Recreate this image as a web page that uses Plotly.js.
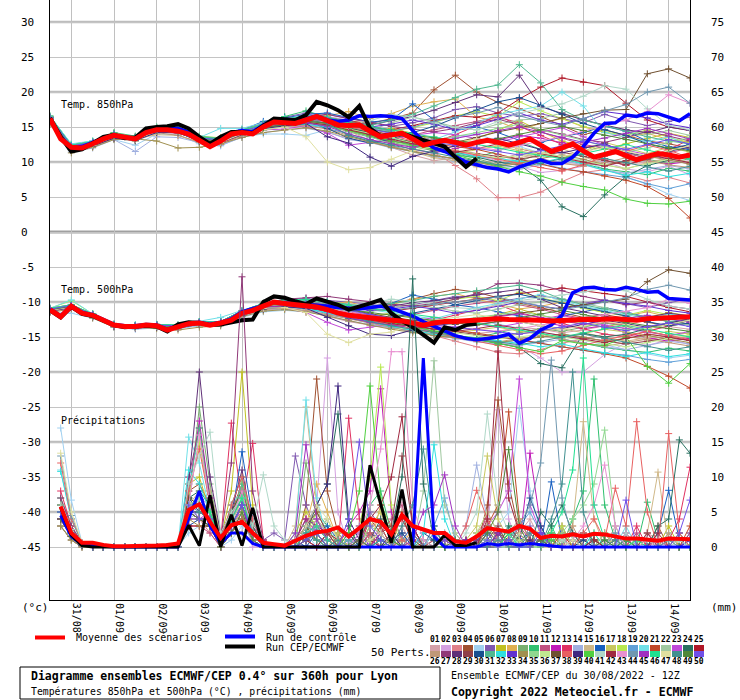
<!DOCTYPE html>
<html><head><meta charset="utf-8">
<script src="https://cdn.plot.ly/plotly-3.0.1.min.js"></script>
<style>html,body{margin:0;padding:0;background:#fff}#chart{width:740px;height:700px}</style>
</head><body><div id="chart"></div>
<script>
const hours6=[0,6,12,18,24,30,36,42,48,54,60,66,72,78,84,90,96,102,108,114,120,126,132,138,144,150,156,162,168,174,180,186,192,198,204,210,216,222,228,234,240,246,252,258,264,270,276,282,288,294,300,306,312,318,324,330,336,342,348,354,360];
const hours12=[0,12,24,36,48,60,72,84,96,108,120,132,144,156,168,180,192,204,216,228,240,252,264,276,288,300,312,324,336,348,360];
const precipHours=[6,12,18,24,30,36,42,48,54,60,66,72,78,84,90,96,102,108,114,120,126,132,138,144,150,156,162,168,174,180,186,192,198,204,210,216,222,228,234,240,246,252,258,264,270,276,282,288,294,300,306,312,318,324,330,336,342,348,354,360];
const dayTicks=[12,36,60,84,108,132,156,180,204,228,252,276,300,324,348];
const dayLabels=["31/08","01/09","02/09","03/09","04/09","05/09","06/09","07/09","08/09","09/09","10/09","11/09","12/09","13/09","14/09"];
const leftTicks=[-45,-40,-35,-30,-25,-20,-15,-10,-5,0,5,10,15,20,25,30];
const rightTicks=[0,5,10,15,20,25,30,35,40,45,50,55,60,65,70,75];
const memberColors=["#d4a0a8","#d4a0e0","#e08088","#a05030","#a0d0f0","#8058b0","#c0c020","#e0b050","#78b070","#30c070","#c05080","#c018b8","#e03060","#a0b0e0","#d0b888","#1860c0","#c8c860","#b8e850","#60a0d8","#70e0e8","#c04828","#a0c8a0","#c048d8","#287060","#b01828","#c09878","#903878","#603078","#904048","#185090","#50b890","#30e0e0","#6030d0","#a09050","#90d890","#c0e890","#705030","#e86060","#402880","#50d040","#b0d8c8","#a02840","#e890d0","#7098b0","#a030c0","#20e090","#e0e0a0","#409090","#508838","#7050e8"];

const mean850=[16.2,13.3,12.1,12.0,12.6,13.3,13.8,13.5,13.3,14.2,14.6,14.6,14.4,14.0,13.2,12.2,13.0,14.0,14.2,14.0,15.0,15.7,15.6,15.5,16.0,16.5,15.9,15.3,15.2,15.3,14.4,13.6,13.9,14.1,13.3,12.4,12.8,13.1,12.8,12.4,12.8,13.1,12.8,12.4,12.8,13.3,12.4,11.5,12.0,12.6,11.6,10.7,11.1,11.5,10.9,10.3,10.8,11.2,11.0,10.7,11.0];
const main850=[16.3,13.6,11.5,11.8,12.7,13.6,13.9,13.4,13.5,14.8,15.0,15.1,15.4,14.8,13.6,12.6,13.6,14.3,14.3,14.1,15.2,16.2,16.1,16.0,16.7,18.6,18.1,17.4,16.4,18.0,14.8,13.7,13.9,14.1,13.6,13.1,12.7,12.2,10.7,9.3,10.5];
const ctrl850=[16.0,13.5,12.0,12.2,12.8,13.4,13.8,13.6,13.4,14.4,14.8,14.9,14.8,14.3,13.5,12.5,13.3,14.2,14.5,14.3,15.3,15.8,15.7,15.8,16.2,16.6,16.0,15.8,16.0,16.6,16.5,16.6,16.5,16.2,14.5,13.0,12.0,11.5,10.8,10.0,9.6,9.2,9.0,8.6,9.3,9.8,10.3,9.8,9.8,10.7,12.2,14.1,15.5,15.6,16.7,16.5,17.0,16.9,16.4,15.9,16.9];
const mean500=[-11.1,-12.1,-10.6,-11.6,-11.9,-12.6,-13.3,-13.5,-13.5,-13.3,-13.4,-14.0,-13.5,-13.1,-13.0,-13.3,-13.0,-12.6,-11.6,-11.2,-10.6,-10.0,-10.2,-10.4,-10.5,-10.7,-11.1,-11.6,-11.9,-12.1,-12.3,-12.5,-12.6,-12.7,-13.0,-13.3,-13.0,-12.8,-12.8,-12.7,-12.6,-12.4,-12.4,-12.5,-12.5,-12.5,-12.6,-12.7,-12.6,-12.5,-12.5,-12.5,-12.4,-12.4,-12.5,-12.6,-12.4,-12.3,-12.2,-12.1,-12.1];
const main500=[-11.2,-12.2,-10.7,-11.7,-12.0,-12.7,-13.3,-13.6,-13.5,-13.4,-13.5,-14.2,-13.2,-12.9,-13.0,-13.3,-13.2,-12.9,-12.6,-12.5,-10.0,-9.2,-9.4,-9.9,-10.3,-9.5,-9.9,-10.4,-11.1,-10.7,-10.2,-9.7,-11.6,-12.7,-13.6,-14.7,-15.8,-13.6,-14.0,-13.3,-13.1];
const ctrl500=[-11.0,-12.0,-10.5,-11.5,-11.8,-12.5,-13.2,-13.4,-13.4,-13.2,-13.3,-13.9,-13.4,-13.0,-12.9,-13.2,-12.9,-12.4,-11.4,-11.0,-10.5,-10.0,-10.1,-10.2,-10.4,-10.5,-10.6,-10.8,-10.9,-11.0,-10.8,-10.6,-10.9,-11.4,-12.0,-12.8,-13.5,-14.2,-14.8,-15.2,-15.4,-15.2,-15.0,-14.6,-15.9,-15.2,-14.0,-13.3,-11.9,-8.7,-8.0,-7.9,-8.2,-8.3,-7.9,-8.2,-8.6,-8.5,-9.5,-9.6,-9.7];
const meanPrecip=[5.8,2.0,0.6,0.6,0.3,0.1,0.1,0.1,0.2,0.2,0.3,0.5,5.3,6.1,3.6,1.3,3.1,3.6,2.0,0.6,0.4,0.2,0.9,1.6,2.1,2.3,2.8,1.5,2.7,4.0,3.6,1.8,4.6,3.0,2.5,2.0,2.0,0.8,0.6,1.5,2.7,2.4,2.2,3.0,2.6,1.3,1.6,1.5,1.8,1.5,1.9,1.8,1.5,1.2,1.2,1.1,0.9,1.2,1.1,1.1];
const mainPrecip=[5.6,1.7,0.2,0,0,0,0,0,0,0,0,0,3.1,0.2,7.4,0,4.6,0.2,5.6,0,0,0,0,0,0,0,0,0,0,11.7,6.0,0.6,8.2,0,0,0,1.7,0.2,0.2,0.6];
const ctrlPrecip=[4.5,1.5,0.3,0.2,0,0,0,0,0,0,0,0,4,8,3,0.5,2,2,0.5,0,0,0,0,0,0,0,0,0,0,0,0,0,0,0,27,1.5,0,0,0,0,0.5,0.3,0.5,0.3,0.5,0.3,0.2,0,0,0,0,0,0,0,0,0,0,0,0,0];

const members850=[
[15.8,12.3,12.9,13.6,13.1,14.3,14.6,13.4,12.8,13.9,14.6,15.2,15.0,14.2,13.4,12.8,12.1,11.0,10.2,10.6,9.8,10.3,11.2,10.5,9.8,9.6,10.5,9.8,9.9,10.6,9.6],
[16.4,11.8,12.4,14.1,13.5,14.9,14.8,13.0,13.4,14.5,15.6,16.2,16.8,16.5,16.0,15.2,14.6,14.0,12.3,11.5,10.9,10.2,9.4,8.5,8.8,9.4,10.1,9.0,8.6,9.4,8.2],
[16.0,12.6,12.2,13.5,13.6,14.5,14.2,13.3,12.9,14.3,14.9,15.8,15.9,15.1,14.6,13.8,13.2,12.9,11.4,9.5,7.6,4.9,4.9,5.7,7.2,8.5,8.9,8.1,7.3,7.8,7.0],
[16.5,12.0,12.5,14.0,13.4,14.7,14.5,13.1,12.9,14.4,15.2,15.8,16.1,16.3,15.9,15.5,16.2,17.0,20.3,22.4,20.0,18.5,17.6,16.5,15.2,13.9,14.6,13.8,13.0,12.6,12.0],
[15.6,11.6,12.3,13.2,12.4,14.0,13.9,12.6,12.3,13.6,14.0,14.0,13.8,14.6,14.3,13.5,13.0,12.6,12.9,13.6,14.0,13.0,12.2,11.3,10.8,10.2,9.0,7.9,6.8,5.4,4.5],
[16.1,12.2,12.8,13.9,13.2,14.8,14.9,13.6,13.3,14.6,15.4,16.4,17.0,16.8,16.2,15.8,15.1,15.6,16.3,17.5,17.9,17.0,16.5,16.9,16.2,15.6,16.8,15.9,15.2,15.8,16.4],
[16.3,12.4,12.7,13.7,13.4,14.4,14.2,13.2,13.1,14.0,15.1,15.5,16.2,15.6,15.0,14.2,14.8,14.1,13.0,12.6,13.4,14.5,15.9,14.4,13.0,12.2,11.8,12.6,13.3,14.1,13.5],
[16.2,12.0,12.6,13.9,13.3,14.6,14.7,13.3,12.8,14.1,15.3,15.9,16.4,16.6,17.2,16.2,16.9,18.0,18.6,19.0,16.4,15.8,14.6,15.5,16.2,15.0,14.2,13.5,14.1,13.2,12.8],
[16.0,12.1,12.5,13.6,13.0,14.5,14.4,13.0,13.2,14.2,14.8,15.4,15.6,15.2,14.5,13.7,12.8,12.2,11.6,11.2,10.5,9.6,10.1,11.2,10.6,11.4,12.3,11.5,10.4,9.8,10.5],
[16.6,12.5,13.0,14.2,13.7,15.0,15.0,13.7,13.4,14.4,15.5,16.5,17.3,16.4,15.7,15.1,14.3,13.2,12.0,11.0,10.6,11.6,12.9,11.8,10.5,9.8,9.0,8.6,8.2,9.1,8.7],
[16.0,12.0,12.8,13.5,13.1,14.3,14.1,13.2,12.7,13.8,14.8,15.3,15.5,15.3,14.9,14.0,13.6,13.8,14.6,15.2,15.8,16.4,15.6,14.3,13.4,12.5,12.0,11.2,10.5,11.3,12.0],
[16.4,12.3,12.9,14.0,13.6,14.9,14.6,13.4,13.2,14.6,15.6,16.0,16.6,16.2,15.0,13.9,12.6,11.8,11.3,11.9,12.5,13.2,13.8,13.4,12.8,12.1,12.4,11.0,10.2,9.7,10.1],
[15.9,12.1,12.4,13.6,13.3,14.4,14.3,12.9,12.7,13.9,14.9,15.7,15.9,15.4,14.9,14.2,13.5,12.6,12.8,13.9,15.2,16.7,15.1,13.8,12.5,11.4,10.3,9.5,10.6,11.8,13.2],
[15.5,11.4,12.0,13.2,11.5,13.6,13.5,12.8,12.4,13.5,14.2,14.6,14.8,14.3,13.2,12.8,12.0,11.5,10.8,10.1,9.6,9.3,9.0,9.6,10.2,9.6,8.8,8.4,8.9,9.5,9.0],
[15.6,11.8,12.3,13.3,13.3,13.9,13.8,12.9,13.1,13.9,14.7,15.1,15.4,15.0,14.4,13.1,12.3,11.5,10.6,10.2,9.3,9.8,10.6,11.2,11.9,10.8,9.6,9.0,9.9,10.5,10.0],
[16.2,12.2,12.7,13.8,13.4,14.7,14.6,13.5,13.3,14.5,15.8,16.3,16.8,17.0,16.4,15.7,16.0,18.3,16.0,14.5,15.0,14.2,13.1,12.8,13.6,14.2,15.1,14.4,13.0,12.2,11.8],
[16.1,12.0,12.6,13.7,13.2,14.6,14.5,13.2,13.0,14.3,14.9,15.4,15.9,15.7,14.8,14.0,13.3,12.5,11.8,11.2,11.8,12.3,11.6,11.0,10.6,11.5,12.8,12.0,11.2,12.1,11.4],
[16.3,12.4,12.9,14.1,13.6,14.9,14.8,13.6,13.5,14.6,15.4,16.1,16.5,16.1,15.4,14.8,14.4,14.9,15.6,16.6,17.2,16.5,18.6,17.3,16.2,15.1,14.3,13.8,14.6,13.5,12.8],
[16.0,12.1,12.5,13.6,13.2,14.4,14.2,13.0,12.9,14.1,14.7,15.1,15.3,14.8,14.0,13.2,12.3,11.5,10.9,10.5,9.9,9.5,10.4,9.7,9.1,8.6,8.2,7.8,6.9,6.2,6.9],
[16.5,12.6,13.0,14.0,13.5,14.8,14.7,13.5,14.8,14.8,15.6,16.2,16.7,16.3,15.4,14.9,14.2,13.6,13.2,14.3,15.6,16.8,17.4,18.0,20.0,18.0,14.2,13.5,12.9,13.6,12.4],
[16.2,12.2,12.6,13.8,13.3,14.5,14.4,13.3,13.0,14.1,14.9,15.5,15.8,15.4,14.5,13.9,13.4,12.9,12.6,12.2,11.8,11.1,10.5,9.8,9.0,8.6,8.0,7.4,6.5,4.8,2.0],
[16.0,12.0,12.5,13.7,13.3,14.6,14.4,13.2,13.0,14.2,14.9,15.7,16.0,15.7,14.9,14.5,15.6,16.4,15.8,15.0,14.6,15.4,16.0,16.2,17.0,16.0,15.2,14.6,13.9,14.5,13.8],
[15.9,11.9,12.4,13.6,13.2,14.4,14.5,13.1,12.9,14.1,14.6,14.7,15.2,14.1,12.4,12.8,13.2,13.8,14.2,13.9,13.3,12.8,13.6,14.3,14.9,13.6,12.4,11.7,11.0,10.4,11.2],
[16.1,12.1,12.6,13.8,13.4,14.7,14.5,13.4,13.1,14.3,15.1,15.5,15.8,15.6,14.9,14.1,13.5,12.8,12.0,11.4,10.6,10.0,9.6,7.4,3.6,2.2,5.3,7.9,9.5,10.3,11.0],
[16.4,12.3,12.8,14.0,13.5,14.8,14.7,13.5,13.2,14.4,15.3,15.9,16.3,16.0,15.6,15.0,14.6,15.2,15.9,16.6,16.4,17.0,19.0,20.7,22.0,21.4,20.9,18.4,16.0,15.0,14.5],
[15.7,11.7,12.2,13.4,13.0,14.2,13.8,12.8,12.5,13.8,14.5,15.1,15.2,14.7,13.8,12.9,12.2,11.6,11.0,10.4,10.0,9.5,9.9,10.4,9.8,9.4,9.9,10.6,10.2,9.6,9.2],
[16.3,12.2,12.8,14.0,13.4,14.8,14.6,13.4,13.2,14.5,15.3,16.0,16.4,16.8,16.2,15.6,15.1,14.7,14.3,14.8,15.6,16.1,15.3,14.6,14.0,13.2,12.8,13.5,14.4,13.7,13.0],
[16.1,12.0,12.6,13.8,13.4,14.6,14.5,13.2,13.1,14.3,15.2,15.8,16.0,16.2,15.8,15.3,15.9,16.5,17.4,18.5,19.6,19.3,22.4,17.9,17.0,16.0,15.3,14.6,14.2,15.0,14.5],
[16.0,12.1,12.5,13.6,13.2,14.4,14.3,13.1,12.8,14.0,14.7,15.3,15.6,15.2,14.4,13.6,13.0,12.5,12.1,11.6,11.2,10.8,10.4,10.9,11.4,10.8,10.2,9.6,10.4,11.1,10.6],
[16.2,12.3,12.7,13.9,13.5,14.6,14.5,13.3,13.0,14.3,15.0,15.6,15.8,14.8,13.4,12.7,13.3,14.2,15.1,16.3,17.4,18.6,19.2,18.1,16.8,15.5,14.6,13.8,12.6,11.9,12.5],
[16.4,12.4,12.9,14.1,13.6,14.9,14.8,13.6,13.4,14.6,15.3,16.0,16.6,16.4,15.8,15.2,16.0,16.8,18.0,19.2,20.4,21.0,23.9,21.3,17.5,16.0,15.2,14.4,13.6,13.0,12.6],
[15.9,11.9,12.4,13.5,13.1,14.3,14.3,13.1,12.9,14.0,14.6,15.2,15.4,15.0,14.6,14.0,13.4,12.5,11.8,11.3,10.8,10.5,10.1,9.9,10.6,9.7,8.8,8.1,8.6,7.9,8.4],
[16.2,12.2,12.7,13.8,13.3,14.6,14.6,13.3,13.1,14.3,15.0,15.9,16.2,16.0,15.5,15.0,15.4,16.0,15.4,14.6,15.2,16.1,17.0,16.0,15.4,16.2,17.2,16.8,16.3,15.4,14.9],
[15.4,11.3,12.1,13.2,13.3,13.0,12.0,12.1,12.6,13.5,14.2,14.6,14.9,14.4,13.6,12.8,12.1,11.5,10.9,10.5,10.0,9.3,9.8,10.5,11.0,10.4,9.6,10.1,10.8,10.3,9.7],
[16.1,12.1,12.6,13.8,13.3,14.5,14.4,13.3,13.0,14.1,15.0,15.6,15.8,15.3,14.4,13.6,12.6,12.4,13.1,13.6,14.2,14.8,15.4,14.6,13.9,13.1,12.2,11.4,12.0,12.8,13.5],
[16.0,12.0,12.5,13.6,13.2,14.4,14.4,13.2,12.9,14.2,14.8,15.4,15.7,15.2,14.7,14.1,13.5,12.7,12.2,11.7,11.1,10.6,10.9,11.3,10.8,10.1,9.6,9.1,9.7,10.4,11.1],
[16.3,12.3,12.8,13.9,13.4,14.7,14.6,13.4,13.2,14.4,15.2,15.8,16.1,15.8,15.1,14.5,13.9,13.5,13.1,12.8,13.5,14.3,14.9,15.5,16.3,16.9,17.4,17.5,22.6,23.3,22.0],
[16.2,12.0,12.6,13.8,13.3,14.6,14.5,13.3,13.1,14.3,15.0,15.7,16.0,15.6,15.0,14.4,13.8,13.0,12.4,11.6,11.0,10.4,9.7,9.2,8.7,9.6,10.8,11.5,12.4,11.7,10.6],
[15.8,11.8,12.3,13.4,13.1,14.2,14.2,13.0,12.8,13.9,14.8,15.2,15.5,13.6,12.7,10.7,9.4,10.8,11.6,12.3,12.8,13.4,12.6,11.8,11.3,12.0,12.6,11.4,10.8,11.5,12.2],
[16.1,12.1,12.6,13.7,13.2,14.5,14.4,13.2,13.0,14.2,14.9,15.5,15.7,15.2,14.5,13.7,13.0,12.4,11.8,11.0,10.2,9.3,8.6,8.0,7.1,6.5,6.0,4.7,4.1,4.0,4.4],
[16.2,12.2,12.7,13.9,13.4,14.7,14.6,13.4,13.1,14.4,15.1,15.8,16.2,15.9,15.3,15.9,16.8,16.4,15.6,14.9,14.6,15.8,17.0,17.6,18.3,19.4,20.9,20.4,17.6,15.2,14.6],
[16.0,12.0,12.5,13.6,13.2,14.4,14.3,13.1,12.9,14.1,14.8,15.4,15.7,15.3,14.6,13.9,13.2,12.6,12.0,11.4,11.9,12.6,11.9,11.2,10.6,10.0,9.4,10.2,11.0,10.5,9.9],
[16.1,12.1,12.6,13.8,13.3,14.6,14.5,13.3,13.0,14.3,15.0,15.6,16.0,15.7,15.1,14.6,14.0,13.5,13.0,12.5,12.1,11.7,12.4,13.0,13.6,14.4,15.2,16.0,17.2,19.6,18.4],
[16.3,12.3,12.8,14.0,13.5,14.8,14.7,13.5,13.2,14.5,15.3,16.0,16.4,16.1,15.5,14.9,14.4,15.0,15.8,16.4,17.0,17.8,16.6,15.8,15.2,16.2,17.3,18.2,20.0,20.7,18.4],
[16.0,12.0,12.5,13.7,13.2,14.5,14.4,13.2,12.9,14.1,14.9,15.4,15.6,15.1,14.0,13.2,12.6,12.1,12.8,13.4,13.9,14.5,15.0,14.2,13.5,12.8,13.4,14.1,14.8,14.0,13.3],
[16.4,12.4,12.9,14.0,13.5,14.8,14.7,13.5,13.3,14.5,15.4,16.1,16.5,16.2,15.6,15.1,14.6,14.1,13.6,13.1,12.6,12.0,11.4,10.9,10.5,11.2,11.9,12.5,11.7,11.0,10.4],
[15.9,11.9,12.4,13.6,13.2,14.4,14.3,13.1,12.8,14.0,14.6,15.0,13.6,10.0,8.9,9.2,10.4,11.6,12.2,12.8,13.3,12.6,11.9,11.3,10.8,11.4,12.1,11.5,10.9,11.6,12.3],
[16.2,12.2,12.7,13.8,13.4,14.6,14.5,13.3,13.1,14.3,15.0,15.7,16.1,15.5,13.8,13.0,12.4,11.9,11.3,10.7,10.1,9.6,9.2,9.8,10.4,11.1,10.5,9.9,9.3,8.7,9.4],
[16.1,12.1,12.6,13.7,13.3,14.5,14.4,13.2,13.0,14.2,14.9,15.4,15.8,15.6,15.2,14.7,14.2,13.8,13.4,13.0,12.7,13.3,14.0,14.6,15.1,14.5,13.8,13.2,12.6,12.0,11.6],
[16.3,12.3,12.8,13.9,13.4,14.7,14.6,13.4,13.2,14.4,15.2,15.9,16.2,15.9,15.4,14.8,14.1,13.4,12.8,12.4,12.0,11.5,11.0,11.6,12.3,13.0,12.4,11.8,12.5,13.2,12.6]];

const members500=[
[-11.2,-10.8,-12.0,-13.4,-13.6,-13.5,-13.7,-13.2,-13.2,-11.9,-11.0,-10.8,-11.3,-12.0,-12.8,-13.3,-13.8,-14.2,-14.6,-14.0,-14.5,-14.2,-13.6,-13.9,-14.4,-14.0,-13.4,-13.8,-14.1,-13.5,-13.9],
[-10.9,-10.4,-11.7,-13.2,-13.4,-13.2,-13.3,-12.8,-12.9,-11.3,-10.2,-9.6,-9.8,-10.4,-11.2,-12.0,-12.6,-13.4,-14.2,-14.8,-15.3,-15.8,-16.3,-18.0,-20.0,-20.0,-17.5,-15.8,-16.2,-15.4,-16.0],
[-11.0,-10.7,-11.8,-13.3,-13.5,-13.4,-13.6,-13.1,-13.0,-11.7,-10.8,-10.4,-10.6,-11.5,-12.2,-12.8,-13.3,-13.9,-14.8,-15.6,-16.4,-17.2,-17.4,-16.8,-15.9,-15.2,-14.6,-14.9,-15.4,-14.8,-15.2],
[-11.1,-10.6,-11.9,-13.3,-13.4,-13.3,-13.5,-13.0,-12.9,-11.5,-10.5,-10.0,-10.2,-10.5,-10.8,-10.6,-10.2,-9.6,-8.8,-8.2,-8.6,-9.4,-10.2,-10.8,-11.5,-12.2,-11.8,-12.4,-12.9,-13.4,-13.0],
[-11.5,-11.6,-12.3,-13.6,-13.9,-13.7,-13.8,-13.4,-13.4,-12.2,-11.4,-11.2,-11.4,-11.8,-12.3,-12.8,-13.2,-13.6,-13.4,-12.9,-12.6,-13.2,-13.8,-14.3,-14.8,-15.4,-16.1,-16.8,-17.4,-18.0,-17.6],
[-11.0,-10.5,-11.8,-13.2,-13.4,-13.3,-13.4,-12.9,-12.8,-11.3,-10.3,-9.7,-9.5,-9.8,-10.1,-10.3,-10.8,-10.4,-9.8,-9.2,-9.4,-9.9,-9.5,-9.1,-9.6,-10.2,-9.7,-10.3,-10.8,-10.1,-9.6],
[-11.1,-10.6,-11.9,-13.3,-13.5,-13.4,-13.5,-13.0,-13.0,-11.6,-10.6,-10.3,-10.4,-11.0,-11.6,-12.0,-11.6,-12.2,-12.8,-13.0,-12.5,-11.8,-11.0,-11.9,-12.6,-13.2,-13.6,-12.9,-12.2,-11.5,-12.0],
[-10.9,-10.4,-11.7,-13.2,-13.4,-13.2,-13.3,-12.9,-12.8,-11.4,-10.3,-9.9,-10.0,-10.2,-10.0,-10.8,-10.4,-9.6,-9.2,-8.8,-9.6,-10.3,-11.0,-10.6,-10.0,-10.8,-11.5,-12.0,-11.4,-12.1,-12.6],
[-11.2,-10.7,-12.0,-13.4,-13.6,-13.5,-13.6,-13.1,-13.0,-11.8,-10.8,-10.6,-10.8,-11.4,-12.2,-12.9,-13.6,-14.2,-14.7,-15.1,-15.6,-15.2,-14.4,-13.8,-14.2,-13.6,-13.0,-13.5,-14.2,-14.8,-14.4],
[-11.0,-10.5,-11.8,-13.3,-13.4,-13.3,-13.4,-12.9,-12.9,-11.4,-10.4,-9.8,-9.6,-10.3,-11.0,-11.7,-12.5,-13.2,-14.0,-14.8,-15.1,-14.4,-13.7,-14.5,-15.3,-15.9,-16.5,-16.9,-17.2,-16.6,-17.0],
[-11.2,-10.7,-12.0,-13.4,-13.5,-13.4,-13.6,-13.1,-13.1,-11.8,-10.9,-10.6,-10.9,-11.2,-11.6,-12.0,-12.2,-11.8,-11.2,-10.6,-10.2,-9.8,-10.4,-11.0,-11.8,-12.4,-12.9,-13.3,-13.8,-13.1,-12.6],
[-11.1,-10.6,-11.9,-13.3,-13.5,-13.4,-13.5,-13.0,-12.9,-11.4,-10.3,-9.9,-10.1,-10.6,-11.5,-12.6,-13.4,-13.9,-14.1,-13.6,-13.2,-12.8,-12.4,-12.8,-13.4,-13.8,-13.4,-14.4,-15.1,-15.6,-15.2],
[-11.0,-10.6,-11.8,-13.3,-13.5,-13.3,-13.5,-13.0,-13.0,-11.6,-10.7,-10.4,-10.6,-11.0,-11.4,-11.9,-12.4,-13.0,-12.6,-11.9,-11.2,-10.4,-11.5,-12.3,-13.1,-13.8,-14.6,-15.0,-14.2,-13.4,-12.6],
[-11.4,-10.9,-12.2,-13.6,-13.8,-13.6,-13.8,-13.3,-13.2,-12.0,-11.2,-11.0,-11.3,-11.9,-12.7,-13.2,-13.8,-14.3,-14.8,-15.3,-15.7,-16.0,-16.2,-15.8,-15.3,-15.8,-16.4,-16.8,-16.2,-15.6,-16.0],
[-11.3,-10.8,-12.1,-13.5,-13.7,-13.6,-13.7,-13.2,-13.1,-11.9,-11.0,-10.7,-10.9,-11.4,-12.0,-12.8,-13.4,-14.0,-14.6,-15.0,-15.4,-15.0,-14.6,-14.2,-13.8,-14.4,-15.0,-15.6,-15.1,-14.6,-14.9],
[-11.0,-10.5,-11.8,-13.2,-13.4,-13.3,-13.4,-12.9,-12.8,-11.3,-10.3,-9.8,-9.8,-10.0,-10.4,-10.8,-10.2,-9.0,-9.6,-10.4,-10.8,-11.4,-12.0,-12.6,-12.0,-11.4,-10.8,-11.4,-12.2,-12.8,-13.2],
[-11.1,-10.6,-11.9,-13.3,-13.5,-13.4,-13.5,-13.0,-13.0,-11.6,-10.7,-10.3,-10.5,-11.0,-11.8,-12.5,-13.0,-13.6,-14.0,-14.4,-14.0,-13.6,-14.2,-14.6,-15.0,-14.5,-13.9,-14.3,-14.8,-14.2,-14.6],
[-10.9,-9.8,-11.7,-13.2,-13.4,-13.2,-13.4,-12.9,-12.8,-11.3,-10.2,-9.7,-9.8,-10.2,-10.6,-10.9,-11.2,-10.8,-10.2,-9.6,-9.2,-9.8,-8.6,-9.4,-10.2,-10.9,-11.5,-11.9,-11.2,-11.8,-12.4],
[-11.2,-10.7,-12.0,-13.4,-13.6,-13.5,-13.6,-13.1,-13.1,-11.8,-10.9,-10.7,-11.0,-11.6,-12.3,-13.0,-13.6,-14.2,-14.6,-15.0,-15.4,-15.9,-15.4,-15.9,-16.5,-16.9,-17.3,-17.6,-18.2,-18.6,-18.2],
[-10.9,-9.7,-11.7,-13.2,-13.3,-13.2,-13.3,-12.8,-12.2,-11.2,-10.2,-9.7,-9.6,-10.0,-10.7,-11.1,-11.6,-12.0,-12.4,-11.6,-10.8,-10.2,-9.6,-8.9,-9.8,-10.6,-11.2,-11.8,-12.4,-11.7,-12.2],
[-11.2,-10.7,-12.0,-13.4,-13.5,-13.4,-13.6,-13.1,-13.0,-11.7,-10.8,-10.5,-10.7,-11.2,-11.9,-12.4,-12.9,-13.3,-13.6,-14.0,-14.4,-14.9,-15.4,-15.9,-16.3,-16.8,-17.4,-18.0,-19.2,-20.6,-22.3],
[-11.1,-10.6,-11.9,-13.3,-13.5,-13.4,-13.5,-13.0,-13.0,-11.6,-10.6,-10.2,-10.4,-10.8,-11.3,-11.4,-10.8,-10.3,-10.8,-11.3,-11.6,-11.0,-10.4,-10.0,-9.6,-10.2,-10.8,-11.6,-12.2,-12.8,-13.3],
[-11.2,-10.7,-12.0,-13.4,-13.6,-13.5,-13.6,-13.1,-13.1,-11.8,-10.9,-10.9,-11.5,-12.9,-14.0,-13.6,-13.2,-12.8,-12.2,-12.6,-13.1,-13.6,-13.0,-12.4,-11.9,-12.6,-13.3,-13.8,-14.3,-14.8,-14.2],
[-11.1,-10.6,-11.9,-13.3,-13.5,-13.4,-13.5,-13.0,-13.0,-11.6,-10.6,-10.3,-10.5,-11.0,-11.7,-12.3,-12.9,-13.5,-14.2,-14.8,-15.4,-16.0,-16.5,-18.8,-19.4,-14.5,-15.0,-14.6,-13.8,-13.2,-12.7],
[-11.0,-10.5,-11.8,-13.2,-13.4,-13.3,-13.4,-12.9,-12.8,-11.3,-10.2,-9.8,-9.8,-10.1,-10.6,-11.0,-11.3,-10.9,-10.4,-10.0,-9.6,-9.2,-8.8,-8.4,-8.0,-8.4,-8.8,-9.2,-10.0,-10.8,-11.4],
[-11.3,-10.8,-12.1,-13.5,-13.7,-13.6,-13.7,-13.2,-13.2,-11.9,-11.1,-10.9,-11.2,-11.8,-12.5,-13.1,-13.7,-14.2,-14.6,-15.0,-15.3,-15.7,-15.2,-14.8,-15.3,-15.9,-16.3,-15.8,-15.3,-15.8,-16.3],
[-11.0,-10.5,-11.8,-13.2,-13.4,-13.3,-13.4,-12.9,-12.8,-11.4,-10.3,-9.6,-9.4,-9.2,-9.6,-10.0,-10.3,-10.6,-10.2,-9.6,-8.8,-7.4,-7.3,-7.6,-8.4,-9.2,-9.8,-10.4,-10.0,-10.6,-11.0],
[-11.1,-10.6,-11.9,-13.3,-13.5,-13.4,-13.5,-13.0,-12.9,-11.5,-10.5,-10.1,-10.2,-10.4,-10.8,-10.9,-10.6,-10.1,-9.8,-9.4,-9.0,-8.6,-8.2,-9.6,-10.8,-11.4,-12.0,-12.6,-12.2,-11.6,-12.0],
[-11.2,-10.7,-12.0,-13.4,-13.5,-13.4,-13.6,-13.1,-13.0,-11.7,-10.8,-10.6,-10.8,-11.3,-12.0,-12.6,-13.1,-13.5,-13.9,-14.3,-14.7,-15.0,-15.4,-15.0,-14.6,-15.1,-15.5,-16.0,-15.6,-15.1,-15.5],
[-11.0,-10.6,-11.8,-13.3,-13.4,-13.3,-13.5,-13.0,-12.9,-11.5,-10.5,-10.2,-10.4,-11.2,-12.3,-12.8,-12.2,-11.6,-11.0,-10.4,-9.8,-9.2,-8.9,-9.5,-10.2,-10.8,-11.4,-12.0,-12.8,-13.4,-13.0],
[-10.9,-10.4,-11.7,-13.2,-13.3,-13.2,-13.3,-12.8,-12.8,-11.3,-10.2,-9.8,-9.7,-10.0,-10.4,-10.6,-10.2,-9.8,-9.2,-8.8,-8.4,-8.0,-7.6,-8.4,-9.6,-10.4,-11.0,-11.6,-12.2,-12.8,-12.4],
[-11.2,-10.7,-12.0,-13.4,-13.6,-13.4,-13.6,-13.1,-13.1,-11.8,-10.9,-10.6,-10.9,-11.5,-12.2,-12.8,-13.5,-14.1,-14.6,-14.9,-15.2,-15.5,-15.9,-16.4,-16.0,-16.7,-17.3,-17.8,-17.2,-17.8,-17.4],
[-11.1,-10.6,-11.9,-13.3,-13.5,-13.3,-13.5,-13.0,-12.9,-11.5,-10.5,-10.0,-10.1,-10.4,-10.9,-11.2,-11.0,-10.6,-11.0,-11.6,-11.2,-10.6,-10.0,-10.6,-11.0,-10.4,-9.8,-10.2,-10.6,-11.2,-11.6],
[-11.5,-11.0,-12.3,-13.6,-13.6,-13.8,-14.0,-13.6,-13.4,-12.1,-11.3,-11.1,-11.4,-12.0,-12.7,-13.3,-13.9,-14.4,-14.8,-15.1,-15.4,-15.8,-15.4,-15.0,-14.6,-15.0,-15.6,-15.2,-14.8,-15.3,-15.8],
[-11.1,-10.6,-11.9,-13.3,-13.5,-13.4,-13.5,-13.0,-13.0,-11.6,-10.6,-10.3,-10.6,-11.1,-11.8,-12.5,-13.2,-13.6,-13.1,-12.7,-12.2,-11.8,-11.4,-11.9,-12.4,-13.0,-13.6,-14.0,-13.5,-13.0,-12.5],
[-11.2,-10.7,-12.0,-13.4,-13.5,-13.4,-13.6,-13.1,-13.0,-11.7,-10.8,-10.5,-10.7,-11.2,-11.9,-12.5,-13.0,-13.6,-14.0,-14.4,-14.8,-15.2,-15.0,-14.6,-15.0,-15.5,-16.0,-16.4,-15.8,-15.2,-14.8],
[-11.0,-10.5,-11.8,-13.3,-13.4,-13.3,-13.4,-12.9,-12.9,-11.4,-10.4,-10.0,-10.1,-10.5,-11.1,-11.7,-12.2,-12.6,-12.9,-13.2,-12.6,-12.0,-11.6,-11.2,-10.8,-10.4,-10.0,-9.6,-7.1,-5.4,-5.9],
[-11.1,-10.6,-11.9,-13.3,-13.5,-13.4,-13.5,-13.0,-13.0,-11.6,-10.7,-10.4,-10.6,-11.2,-11.9,-12.6,-13.2,-13.8,-14.4,-15.0,-15.6,-16.2,-16.9,-17.4,-17.0,-16.2,-15.4,-14.8,-14.2,-14.8,-15.4],
[-11.3,-10.8,-12.1,-13.5,-13.7,-13.6,-13.7,-13.2,-13.1,-11.9,-11.0,-10.7,-10.9,-12.2,-13.4,-14.6,-14.8,-14.0,-13.4,-13.0,-12.6,-12.2,-12.8,-13.4,-13.8,-13.2,-12.6,-13.1,-13.6,-13.0,-12.4],
[-11.1,-10.6,-11.9,-13.3,-13.5,-13.4,-13.5,-13.0,-13.0,-11.6,-10.7,-10.4,-10.6,-11.1,-11.8,-12.4,-13.0,-13.6,-14.2,-14.8,-15.4,-16.0,-16.6,-17.1,-15.5,-16.0,-16.2,-15.0,-19.2,-21.6,-18.8],
[-11.0,-10.5,-11.8,-13.2,-13.4,-13.3,-13.4,-12.9,-12.8,-11.4,-10.3,-9.8,-9.8,-10.1,-10.5,-10.2,-9.6,-9.9,-10.4,-10.8,-11.0,-10.4,-9.8,-9.4,-9.0,-8.6,-8.0,-8.4,-9.6,-10.6,-11.0],
[-11.2,-10.7,-12.0,-13.4,-13.5,-13.4,-13.6,-13.1,-13.0,-11.7,-10.8,-10.5,-10.8,-11.3,-12.0,-12.6,-13.1,-13.5,-13.9,-14.2,-13.8,-13.3,-13.8,-14.3,-14.8,-15.3,-15.8,-15.2,-14.6,-15.0,-15.5],
[-11.1,-10.6,-11.9,-13.3,-13.5,-13.4,-13.5,-13.0,-13.0,-11.6,-10.6,-10.3,-10.5,-10.9,-11.5,-12.0,-12.5,-12.9,-13.3,-13.6,-13.9,-14.2,-13.8,-13.3,-12.9,-12.4,-11.9,-11.4,-10.8,-9.6,-10.2],
[-11.0,-10.5,-11.8,-13.2,-13.4,-13.3,-13.4,-12.9,-12.8,-11.4,-10.3,-9.8,-9.9,-10.2,-10.7,-11.0,-11.2,-10.8,-10.3,-10.0,-9.7,-9.3,-10.0,-10.6,-11.1,-10.6,-10.0,-9.4,-8.2,-7.6,-8.3],
[-11.2,-10.7,-12.0,-13.4,-13.5,-13.4,-13.6,-13.1,-13.0,-11.7,-10.8,-10.5,-10.7,-11.3,-12.2,-12.9,-13.3,-13.6,-13.2,-12.8,-12.4,-12.0,-11.7,-12.2,-12.7,-13.2,-12.8,-12.4,-11.9,-12.4,-12.9],
[-10.9,-10.4,-11.7,-13.2,-13.3,-13.2,-13.3,-12.8,-12.8,-11.3,-10.2,-9.7,-9.7,-10.0,-10.5,-10.9,-11.4,-11.8,-12.2,-12.6,-13.0,-13.5,-14.0,-14.5,-15.0,-14.4,-13.8,-13.3,-13.9,-14.5,-15.0],
[-11.2,-10.7,-12.0,-13.4,-13.6,-13.5,-13.6,-13.1,-13.1,-11.8,-10.9,-10.8,-11.5,-14.6,-15.8,-14.6,-14.3,-13.2,-12.6,-12.2,-11.8,-12.3,-12.8,-13.4,-13.9,-13.4,-12.8,-13.2,-13.8,-13.2,-12.6],
[-11.1,-10.6,-11.9,-13.3,-13.5,-13.4,-13.5,-13.0,-12.9,-11.5,-10.5,-10.1,-10.3,-10.9,-11.9,-12.8,-13.4,-13.9,-14.4,-14.9,-15.3,-15.7,-16.1,-15.6,-15.0,-14.6,-15.2,-15.8,-16.4,-16.9,-16.4],
[-11.1,-10.6,-11.9,-13.3,-13.5,-13.4,-13.5,-13.0,-13.0,-11.6,-10.6,-10.2,-10.4,-10.7,-11.1,-11.5,-11.9,-12.3,-12.7,-13.0,-13.3,-12.8,-12.2,-11.7,-11.2,-11.8,-12.4,-12.9,-13.4,-13.8,-14.2],
[-11.0,-10.5,-11.8,-13.3,-13.4,-13.3,-13.4,-12.9,-12.9,-11.4,-10.4,-10.0,-10.2,-10.6,-11.2,-11.8,-12.4,-12.9,-13.3,-13.6,-13.9,-14.2,-14.6,-14.1,-13.6,-13.0,-13.6,-14.1,-13.5,-13.0,-13.5]];

const membersPrecip=[
[4,2,0.3,0,0,0,0,0,0,0,0,0,6,5,4,1,3,2,1,0,0,0,1,0,2,4,1,0,0,2,1,0,3,0,0,2,1,0,0,0,3,1,0,2,4,1,0,0,2,0,1,0,3,0,0,1,0,2,0,0],
[6,1.5,0.5,0,0,0,0,0,0,0,0,0,4,7,6,1,2,5,0,0,0,0,0,3,6,27,5,0,0,1,3,2,0,1,0,0,0,1,0,0,2,19.6,4,0,1,0,2,0,0,0,0,1,0,0,2,0,0,0,1,0],
[3,1,0,0,0,0,0,0,0,0,0,0,3,4,2,0,4,6,2,0,0,0,1,4,2,0,0,1,0,3,4,1,0,2,1,0,0,0,0,2,4,1,0,0,1,2,0,0,1,0,0,0,1,0,0,2,1,0,0,1],
[5,2,0.4,0,0,0,0,0,0,0,0,0,8,9,6,0,5,9,3,0,0,0,0,6,24,8,2,0,0,4,2,0,5,0,0,3,0,0,0,0,6,21,9,2,0,1,0,3,0,0,0,2,0,1,0,0,3,0,0,0],
[17,6.7,0.6,0,0,0,0,0,0,0,0,0,2,3,3,0,1,3,1,0,0,0,0,2,0,1,0,0,2,0,0,0,1,0,0,0,1,0,0,0,1,3,5,19.8,8,2,0,1,0,0,0,0,0,1,0,0,0,0,1,0],
[4,2,0.2,0,0,0,0,0,0,0,0,0,5,6,8,2,4,7,3,1,2,1,13,6,2,0,0,2,0,5,3,0,0,0,0,2,0,0,0,1,0,2,0,0,3,1,0,2,0,0,1,0,0,2,0,0,0,0,0,0],
[6,1.5,0.3,0,0,0,0,0,0,0,0,0,9,10,5,1,8,25,6,0,0,0,2,5,3,1,0,0,1,0,2,0,0,1,0,0,0,1,0,0,2,0,3,1,0,0,2,0,0,1,0,2,0,0,1,0,0,3,0,0],
[5,2,0.5,0,0,0,0,0,0,0,0,0,4,4,3,0,2,4,1,0,0,0,1,3,9,5,1,0,0,0,6,3,1,2,0,0,2,0,0,0,1,0,2,0,0,3,0,0,1,0,0,0,2,0,0,0,1,0,0,0],
[3,1,0,0,0,0,0,0,0,0,0,0,6,20,9,1,3,5,2,0,0,0,0,12,4,1,2,0,3,1,0,2,0,0,1,0,0,0,0,2,3,1,0,0,2,0,1,0,0,0,2,0,0,0,1,0,0,0,2,0],
[7,3,0.4,0,0,0,0,0,0,0,0,0,7,6,5,0,6,10,2,0,0,0,0,2,5,3,0,0,0,6,8,2,0,0,0,1,0,0,0,0,0,0,2,1,0,0,3,0,4,8,24,6,1,0,0,6.4,1,0,0,0],
[4,1.5,0.3,0,0,0,0,0,0,0,0,0,3,3,2,0,2,4,1,0,0,0,0,1,2,0,0,1,0,0,2,4,6,1,0,0,0,1,0,0,5,2,0,3,1,0,0,0,2,0,1,0,0,0,2,0,0,1,0,0],
[5,2,0.4,0,0,0,0,0,0,0,0,0,8,18,7,1,4,8,3,0,0,0,1,4,2,0,0,3,5,8,22.6,5,1,0,0,0,1,0,0,0,2,0,1,0,13.4,3,0,0,1,0,0,0,1,0,0,2,0,0,0,0],
[8,3,0.5,0,0,0,0,0,0,0,0,0,5,5,4,1,17.7,6,14.8,1,0,0,0,2,4,2,0,18.4,4,1,0,0,2,0,0,1,0,0,0,0,1,0,0,2,0,0,1,0,0,0,0,1,0,0,3,0,0,1,4,11.4],
[3,1,0,0,0,0,0,0,0,0,0,0,4,5,6,0,2,4,1,0,0,0,0,1,0,2,0,0,0,0,1,0,0,0,0,0,2,0,3,11.7,4,1,0,0,2,0,0,1,0,0,0,0,2,0,0,1,0,0,0,2],
[4,2,0.3,0,0,0,0,0,0,0,0,0,6,8,8,2,5,7,2,0,0,0,3,20,6,1,0,0,1,0,2,0,1,0,0,0,0,2,0,0,1,0,2,0,0,1,0,0,3,17.9,4,0,0,1,0,2,10.7,0,0,1],
[5,2,0.5,0,0,0,0,0,0,0,0,0,3,4,4,0,4,13.6,4,0,0,0,1,0,2,3,1,0,0,2,0,0,1,3,0,0,0,0,0,1,2,0,0,1,2,0,9.3,1,0,0,0,0,1,0,0,0,2,8.1,1,0],
[6,2,0.3,0,0,0,0,0,0,0,0,0,5,6,4,0,3,6,1,0,0,0,0,3,1,0,2,0,0,3,5,1,0,0,0,0,0,0,1,3,13,4,1,0,0,0,2,0,0,1,0,0,0,2,0,0,0,0,1,0],
[4,1.5,0.2,0,0,0,0,0,0,0,0,0,7,15,6,1,4,9,3,0,0,0,1,2,5,2,0,1,3,10,25.7,6,0,1,0,0,0,0,0,0,0,2,0,1,0,0,0,3,0,0,2,0,0,0,1,0,0,0,0,0],
[5,2,0.4,0,0,0,0,0,0,0,0,0,4,4,3,0,2,5,1,0,0,0,0,1,3,1,0,0,0,1,0,0,2,0,0,3,7,1,0,0,2,0,1,3,5,2,0,0,0,2,0,1,0,0,0,1,0,0,2,0],
[11,4,0.5,0,0,0,0,0,0,0,0,0,15.7,12,5,1,6,8,2,0,0,0,2,21,7,1,0,0,0,2,1,0,0,0,0,2,1,0,0,0,0,1,3,0,0,2,0,0,1,0,0,0,0,3,0,0,0,2,0,0],
[4,1.5,0.3,0,0,0,0,0,0,0,0,0,5,5,4,0,3,5,1,0,0,0,0,2,1,0,1,2,0,0,3,0,0,2,0,0,0,0,1,0,3,6,19.3,4,1,0,0,2,0,0,1,0,0,0,1,0,0,0,0,3],
[5,2,0.4,0,0,0,0,0,0,0,0,0,6,7,5,1,3,7,2,0,0,0,1,3,2,4,1,0,0,2,1,0,0,0,8,26.6,6,2,0,0,1,0,2,0,0,1,0,0,0,0,0,2,0,0,0,1,0,0,0,0],
[4,1.5,0.3,0,0,0,0,0,0,0,0,0,4,4,5,0,2,6,1,0,0,0,0,1,4,2,0,1,3,0,2,0,1,0,0,0,0,0,0,0,3,5,8,24,6,2,0,1,0,0,0,1,0,2,0,0,1,0,0,0],
[6,2.5,0.5,0,0,0,0,0,0,0,0,0,7,8,6,1,5,8,2,0,0,0,0,2,6,9,19,3,0,1,4,2,10,38.3,9,1,0,0,0,0,2,0,3,1,0,5,3,6,2,0,0,0,0,1,0,0,3,4,15.3,13.4],
[5,2,0.4,0,0,0,0,0,0,0,0,0,3,3,3,0,2,4,1,0,0,0,0,1,0,2,1,0,0,1,0,2,4,1,0,0,0,0,1,0,0,2,0,0,1,0,0,0,0,0,1,0,0,0,0,0,1,0,0,0],
[3,1,0,0,0,0,0,0,0,0,0,0,5,4,4,0,3,5,2,0,0,0,1,3,1,0,0,0,1,0,0,0,1,0,0,0,1,0,0,2,1,0,2,4,1,0,0,1,3,0,0,0,1,0,0,0,0,2,0,0],
[7,3,0.6,0,0,0,0,0,0,0,0,0,10,17,7,1,12,38.6,8,1,0,0,1,4,3,2,0,0,1,0,0,1,0,0,0,0,0,0,0,1,0,0,1,0,0,2,0,0,0,1,0,0,0,1,0,0,0,0,0,2],
[5,2,0.3,0,0,0,0,0,0,0,0,0,9,25,10,2,5,11,3,0,0,0,0,2,1,0,0,0,0,2,1,0,0,0,0,0,1,0,0,0,0,1,0,2,0,0,1,0,0,0,0,0,0,0,1,0,0,0,0,0],
[4,1.5,0.2,0,0,0,0,0,0,0,0,0,6,6,5,0,4,7,2,0,0,0,0,3,5,2,0,0,0,0,2,3,13,3,0,0,0,0,0,0,1,3,0,0,2,0,0,0,1,0,0,0,0,0,0,2,0,0,0,0],
[5,2,0.5,0,0,0,0,0,0,0,0,0,7,5,4,1,3,5,1,0,0,0,0,2,3,1,0,2,0,0,0,1,2,0,2,1,0,0,0,0,1,0,2,1,7,3,0,0,0,1,0,0,0,1,0,0,0,0,0,1],
[6,2.5,0.4,0,0,0,0,0,0,0,0,0,8,17,6,1,4,9,2,0,0,0,0,1,2,0,0,1,0,0,0,0,0,0,1,0,0,0,0,0,0,2,0,0,0,1,0,0,0,0,1,0,0,0,0,0,0,1,0,0],
[10.8,4,0.5,0,0,0,0,0,0,0,0,0,11,9,5,0,4,7,3,0,0,0,0,3,2,0,0,1,0,0,1,0,0,0,2,14.6,4,0,0,0,1,0,0,2,0,1,0,0,0,0,2,0,0,0,0,1,0,0,0,0],
[4,1.5,0.3,0,0,0,0,0,0,0,0,0,5,4,3,0,3,6,1,0,0,0,0,2,3,1,0,0,2,0,1,0,0,2,0,0,0,0,1,0,2,1,0,0,0,2,1,0,0,0,0,0,0,0,0,1,0,0,0,1],
[3,1,0,0,0,0,0,0,0,0,0,0,4,3,3,0,2,4,1,0,0,0,0,1,2,0,1,0,0,0,0,2,0,0,0,0,1,0,0,0,3,0,2,1,0,0,2,0,0,0,0,0,1,0,0,0,0,0,2,0],
[5,2,0.4,0,0,0,0,0,0,0,0,0,6,7,5,1,4,8,2,0,0,0,1,2,1,0,0,0,0,3,2,0,1,0,0,0,0,0,0,0,0,1,0,0,2,0,1,2,4,6,9,16.7,3,0,0,1,0,0,0,0],
[4,1.5,0.3,0,0,0,0,0,0,0,0,0,5,4,4,0,3,5,1,0,0,0,0,2,4,2,0,0,1,0,0,1,0,0,0,0,0,0,0,2,5,2,0,1,0,0,0,1,0,0,0,0,0,0,1,0,0,0,0,0],
[6,2,0.5,0,0,0,0,0,0,0,0,0,7,6,4,1,5,8,3,0,0,0,0,3,1,0,0,0,0,1,1,0,0,0,0,0,0,0,0,0,0,2,1,0,0,0,0,0,0,2,1,0,0,0,0,0,1,0,0,0],
[12,4,0.6,0,0,0,0,0,0,0,0,0,8,14,6,1,6,10,4,0,0,0,0,2,3,1,0,0,0,2,0,0,1,0,0,0,1,0,3,8.1,4,1,0,0,0,1,0,0,0,2,4,1,8.4,3,17.9,5,0,16.2,2,0],
[4,1.5,0.2,0,0,0,0,0,0,0,0,0,5,5,4,0,3,6,1,0,0,0,0,3,6,9,23,4,1,0,0,2,0,0,0,0,0,0,0,0,0,2,0,0,1,0,0,0,0,0,0,0,0,0,0,1,0,0,0,0],
[5,2,0.4,0,0,0,0,0,0,0,0,0,6,6,5,1,4,7,2,0,0,0,0,2,1,0,0,2,8,23,7,1,0,0,0,0,0,0,0,0,1,0,2,0,0,0,1,0,0,0,0,0,0,1,0,0,0,0,0,0],
[6,2.5,0.4,0,0,0,0,0,0,0,0,0,9,13,16.4,2,5,7,3,10.3,3,1,0,2,1,0,0,0,0,1,2,0,0,0,0,0,0,0,2,5,19,6,2,0,0,0,0,1,0,0,0,0,0,2,0,0,0,0,1,0],
[4,1.5,0.3,0,0,0,0,0,0,0,0,0,5,4,3,0,3,5,1,0,0,0,0,1,0,2,0,0,1,4,6,10,18.6,3,0,0,0,0,0,0,4,28,7,2,0,1,0,0,0,0,1,0,0,0,0,0,2,0,0,0],
[5,2,0.4,0,0,0,0,0,0,0,0,0,6,16,6,1,4,8,2,0,0,0,1,2,3,1,0,0,2,6,14,27.9,27.9,6,1,0,0,0,0,0,0,1,0,0,2,0,0,0,1,3,6,11.7,3,0,0,0,1,0,0,0],
[13,4.5,0.6,0,0,0,0,0,0,0,0,0,6,5,4,1,3,6,2,0,0,0,0,3,2,0,0,1,0,0,1,0,0,2,0,0,0,0,0,0,2,0,1,3,6,12,26.7,7,1,0,0,0,2,0,0,0,0,1,0,0],
[4,1.5,0.3,0,0,0,0,0,0,0,0,0,5,4,4,0,3,6,1,0,0,0,2,14.6,4,1,0,0,1,0,2,0,0,1,5,6,10.3,3,0,0,0,2,0,0,0,1,0,0,0,0,0,0,0,0,0,1,0,0,0,0],
[5,2,0.4,0,0,0,0,0,0,0,0,0,6,6,5,1,4,7,2,0,0,0,0,2,3,1,0,0,0,0,1,0,0,0,0,0,0,0,0,0,1,0,2,0,0,0,2,5,11,27,6,1,0,0,1,0,0,0,0,0],
[13.4,5,0.6,0,0,0,0,0,0,0,0,0,6,4,4,0,3,5,1,0,0,0,0,3,6,4,1,0,0,1,2,0,0,0,0,0,0,0,0,0,1,0,0,2,0,0,0,0,1,0,0,0,0,0,0,1,0,0,0,0],
[5,2,0.3,0,0,0,0,0,0,0,0,0,5,5,4,1,3,6,2,0,0,0,0,2,1,0,1,0,0,0,1,0,3,6,14,3,0,0,0,0,0,1,0,0,2,0,4,9,25,5,0,0,1,0,0,0,0,0,0,0],
[4,1.5,0.3,0,0,0,0,0,0,0,0,0,5,4,3,0,2,5,1,0,0,0,0,1,2,0,0,0,1,0,0,1,0,0,0,0,0,1,0,0,2,5,13.9,3,0,1,0,0,0,0,0,1,0,0,0,0,0,0,0,0],
[5,2,0.4,0,0,0,0,0,0,0,0,0,6,4,4,1,3,6,2,0,0,0,0,1,2,0,0,4,15,3,1,0,0,0,0,0,1,0,0,0,1,0,1,0,0,2,0,0,0,0,0,0,0,6.7,0,0,0,0,2,6.7]];

const FONT='DejaVu Sans Mono';
const traces=[];
for(let k=0;k<50;k++){
  const c=memberColors[k];
  const base={type:'scatter',mode:'lines+markers',line:{color:c,width:1},marker:{symbol:'cross-thin',size:5,color:c,line:{color:c,width:1}},hoverinfo:'skip',showlegend:false};
  traces.push(Object.assign({},base,{x:hours12,y:members850[k],yaxis:'y'}));
  traces.push(Object.assign({},base,{x:hours12,y:members500[k],yaxis:'y'}));
  traces.push(Object.assign({},base,{x:precipHours,y:membersPrecip[k],yaxis:'y2'}));
}
function thick(x,y,color,width,axis){return {type:'scatter',mode:'lines',x:x,y:y,yaxis:axis,line:{color:color,width:width},hoverinfo:'skip',showlegend:false};}
traces.push(thick(hours6,ctrl850,'#0000ff',3.5,'y'));
traces.push(thick(hours6,ctrl500,'#0000ff',3.5,'y'));
traces.push(thick(precipHours,ctrlPrecip,'#0000ff',3,'y2'));
traces.push(thick(hours6.slice(0,main850.length),main850,'#000000',4,'y'));
traces.push(thick(hours6.slice(0,main500.length),main500,'#000000',4,'y'));
traces.push(thick(precipHours.slice(0,mainPrecip.length),mainPrecip,'#000000',3,'y2'));
traces.push(thick(hours6,mean850,'#ff0000',5,'y'));
traces.push(thick(hours6,mean500,'#ff0000',5,'y'));
traces.push(thick(precipHours,meanPrecip,'#ff0000',4,'y2'));

const px=p=>(p-50)/640, py=p=>(600-p)/600;
const ann=[], shapes=[];
function txt(x,y,t,opt){ann.push(Object.assign({xref:'paper',yref:'paper',x:x,y:y,text:t,showarrow:false,xanchor:'left',yanchor:'middle',font:{family:FONT,size:10,color:'#000'}},opt||{}));}
leftTicks.forEach(v=>ann.push({xref:'paper',x:px(19),xanchor:'left',yref:'y',y:v,yanchor:'middle',text:String(v),showarrow:false,font:{family:FONT,size:11,color:'#000'}}));
rightTicks.forEach(v=>ann.push({xref:'paper',x:px(709),xanchor:'left',yref:'y2',y:v,yanchor:'middle',text:String(v),showarrow:false,font:{family:FONT,size:11,color:'#000'}}));
dayTicks.forEach((t,i)=>ann.push({xref:'x',x:t,xshift:6,xanchor:'center',yref:'paper',y:0,yshift:-1,yanchor:'top',textangle:90,text:dayLabels[i],showarrow:false,font:{family:FONT,size:10,color:'#000'}}));
txt(px(20),py(607),'(°c)',{font:{family:FONT,size:11,color:'#000'}});
txt(px(709),py(607),'(mm)',{font:{family:FONT,size:11,color:'#000'}});
txt(px(59),py(104),'Temp. 850hPa');
txt(px(59),py(290),'Temp. 500hPa');
txt(px(59),py(420),'Précipitations');
txt(px(74),py(637),'Moyenne des scénarios');
txt(px(264),py(637),'Run de contrôle');
txt(px(264),py(647),'Run CEP/ECMWF');
txt(px(369),py(652),'50 Perts.',{font:{family:FONT,size:11,color:'#000'}});
txt(px(29),py(676),'<b>Diagramme ensembles ECMWF/CEP 0.4° sur 360h pour Lyon</b>',{font:{family:FONT,size:11.5,color:'#000'}});
txt(px(29),py(691),'Températures 850hPa et 500hPa (°C) , précipitations (mm)',{font:{family:FONT,size:9.8,color:'#000'}});
txt(px(449),py(675.5),'Ensemble ECMWF/CEP du 30/08/2022 - 12Z');
txt(px(449),py(692),'<b>Copyright 2022 Meteociel.fr - ECMWF</b>',{font:{family:FONT,size:11.5,color:'#000'}});
for(let k=0;k<50;k++){
  const col=k%25,row=Math.floor(k/25);
  const x0=430+11*col;
  shapes.push({type:'rect',xref:'paper',yref:'paper',x0:px(x0),x1:px(x0+10),y0:py(row?657:651),y1:py(row?651:645),fillcolor:memberColors[k],line:{width:0}});
  const lab=(k+1<10?'0':'')+(k+1);
  ann.push({xref:'paper',yref:'paper',x:px(x0+5),y:py(row?661.5:639),xanchor:'center',yanchor:'middle',text:'<b>'+lab+'</b>',showarrow:false,font:{family:FONT,size:8,color:'#000'}});
}
[30,20,10,-10,-20,-30,-40].forEach(v=>shapes.push({type:'line',xref:'paper',x0:0,x1:1,yref:'y',y0:v,y1:v,layer:'below',line:{color:'#bdbdbd',width:2.5}}));
shapes.push({type:'line',xref:'paper',x0:0,x1:1,yref:'y',y0:0,y1:0,layer:'below',line:{color:'#a0a0a0',width:3}});
shapes.push({type:'line',xref:'paper',yref:'paper',x0:px(35),x1:px(65),y0:py(637.5),y1:py(637.5),line:{color:'#ff0000',width:4}});
shapes.push({type:'line',xref:'paper',yref:'paper',x0:px(225),x1:px(255),y0:py(636.5),y1:py(636.5),line:{color:'#0000ff',width:4}});
shapes.push({type:'line',xref:'paper',yref:'paper',x0:px(225),x1:px(255),y0:py(646.5),y1:py(646.5),line:{color:'#000000',width:4}});
shapes.push({type:'rect',xref:'paper',yref:'paper',x0:px(20),x1:px(440),y0:py(699),y1:py(667),line:{color:'#000',width:1},fillcolor:'rgba(0,0,0,0)'});

const layout={width:740,height:700,margin:{l:50,r:50,t:0,b:100},paper_bgcolor:'#fff',plot_bgcolor:'#fff',showlegend:false,
  xaxis:{range:[0,360],tickvals:dayTicks,showticklabels:false,ticks:'',showgrid:true,gridcolor:'#c0c0c0',gridwidth:1,zeroline:false,showline:true,linecolor:'#000',linewidth:1,fixedrange:true},
  yaxis:{range:[-52.571,33.143],tickvals:leftTicks,showticklabels:false,ticks:'',showgrid:true,gridcolor:'#c4c4c4',gridwidth:1,zeroline:false,showline:true,linecolor:'#000',linewidth:1,fixedrange:true},
  yaxis2:{range:[-7.571,78.143],overlaying:'y',side:'right',anchor:'x',showticklabels:false,ticks:'',showgrid:false,zeroline:false,showline:true,linecolor:'#000',linewidth:1,fixedrange:true},
  annotations:ann,shapes:shapes};
Plotly.newPlot('chart',traces,layout,{staticPlot:true,displayModeBar:false});
</script></body></html>
